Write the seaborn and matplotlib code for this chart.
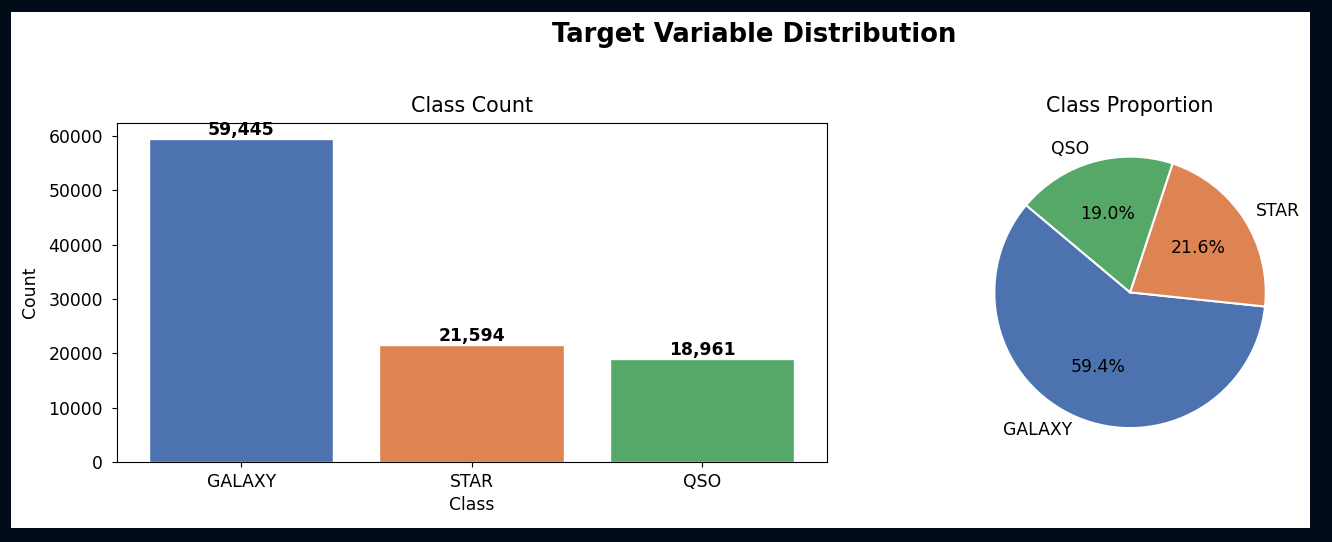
import matplotlib
matplotlib.use('Agg')
import matplotlib.pyplot as plt
import seaborn as sns
import pandas as pd
from matplotlib.patches import Rectangle

# data
classes = ['GALAXY', 'STAR', 'QSO']
counts = [59445, 21594, 18961]

colors = sns.color_palette('deep', 3)
df = pd.DataFrame({'Class': classes, 'Count': counts})

fs = 12.4  # base font size

fig = plt.figure(figsize=(13.32, 5.42), dpi=100, facecolor='#020c18')
# white page inside the dark frame
fig.patches.append(Rectangle((11 / 1332, 14 / 542), 1299 / 1332, 516 / 542,
                             transform=fig.transFigure, facecolor='white',
                             edgecolor='none', zorder=-10))

ax1 = fig.add_axes([116.7 / 1332, 80 / 542, 710 / 1332, 339.3 / 542])
ax2 = fig.add_axes([960.4 / 1332, 80 / 542, 339.3 / 1332, 339.3 / 542])

# bar chart
sns.barplot(data=df, x='Class', y='Count', hue='Class', palette=colors,
            saturation=1, legend=False, edgecolor='white', linewidth=1,
            width=0.8, ax=ax1)
ax1.set_xlim(-0.54, 2.54)
ax1.set_ylim(0, max(counts) * 1.05)
for i, c in enumerate(counts):
    ax1.text(i, c, f'{c:,}', ha='center', va='bottom', fontsize=fs,
             fontweight='bold')
ax1.set_title('Class Count', fontsize=14.9, pad=8)
ax1.set_xlabel('Class', fontsize=fs, labelpad=3.5)
ax1.set_ylabel('Count', fontsize=fs, labelpad=6.5)
ax1.tick_params(axis='x', labelsize=fs, pad=4.5)
ax1.tick_params(axis='y', labelsize=fs, pad=6.5)

# pie chart
ax2.pie(counts, labels=classes, colors=colors, autopct='%1.1f%%',
        startangle=140, wedgeprops={'edgecolor': 'white', 'linewidth': 1.5},
        textprops={'fontsize': fs})
ax2.set_title('Class Proportion', fontsize=14.9, pad=8)

fig.text(754 / 1332, 1 - 35 / 542, 'Target Variable Distribution',
         ha='center', va='center', fontsize=18.6, fontweight='bold')

fig.savefig('out.png', dpi=100, facecolor=fig.get_facecolor())
